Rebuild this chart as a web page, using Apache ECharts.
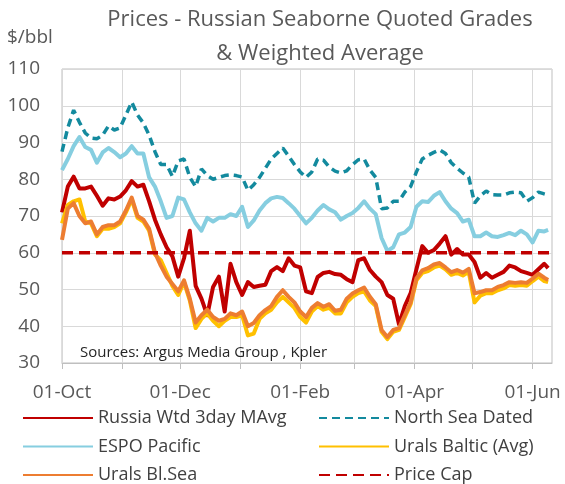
<!DOCTYPE html>
<html>
<head>
<meta charset="utf-8">
<script src="https://cdn.jsdelivr.net/npm/echarts@6/dist/echarts.min.js"></script>
<style>
  html, body { margin: 0; padding: 0; background: #fff; }
  #chart { width: 565px; height: 484px; }
</style>
</head>
<body>
<div id="chart"></div>
<script>
// sample dates (every 3 days)
const sampleDates = [
  '2022-10-01', '2022-10-04', '2022-10-07', '2022-10-10', '2022-10-13', '2022-10-16', '2022-10-19', '2022-10-22',
  '2022-10-25', '2022-10-28', '2022-10-31', '2022-11-03', '2022-11-06', '2022-11-09', '2022-11-12', '2022-11-15',
  '2022-11-18', '2022-11-21', '2022-11-24', '2022-11-27', '2022-11-30', '2022-12-03', '2022-12-06', '2022-12-09',
  '2022-12-12', '2022-12-15', '2022-12-18', '2022-12-21', '2022-12-24', '2022-12-27', '2022-12-30', '2023-01-02',
  '2023-01-05', '2023-01-08', '2023-01-11', '2023-01-14', '2023-01-17', '2023-01-20', '2023-01-23', '2023-01-26',
  '2023-01-29', '2023-02-01', '2023-02-04', '2023-02-07', '2023-02-10', '2023-02-13', '2023-02-16', '2023-02-19',
  '2023-02-22', '2023-02-25', '2023-02-28', '2023-03-03', '2023-03-06', '2023-03-09', '2023-03-12', '2023-03-15',
  '2023-03-18', '2023-03-21', '2023-03-24', '2023-03-27', '2023-03-30', '2023-04-02', '2023-04-05', '2023-04-08',
  '2023-04-11', '2023-04-14', '2023-04-17', '2023-04-20', '2023-04-23', '2023-04-26', '2023-04-29', '2023-05-02',
  '2023-05-05', '2023-05-08', '2023-05-11', '2023-05-14', '2023-05-17', '2023-05-20', '2023-05-23', '2023-05-26',
  '2023-05-29', '2023-06-01', '2023-06-04', '2023-06-07', '2023-06-09'
]

const russiaWtd = [
  71, 78, 80.7, 77.5, 77.5, 78, 75.5, 72.8, 74.8, 74.5, 75.3, 77, 79.5, 78, 78.5, 74,
  69, 65, 61.5, 59, 53.5, 58.5, 66, 51, 47.5, 43, 50.7, 53.5, 44, 57, 52, 48.5,
  52, 50.7, 51, 51.3, 55, 56.1, 55, 58.5, 56.5, 56, 49.5, 49, 53.4, 54.5, 54.8, 54.2,
  54, 52.8, 52, 58, 58.5, 55.3, 53.5, 52, 48.5, 47.5, 40.5, 45.5, 49, 55.5, 61.8, 60,
  60.7, 62.5, 64.5, 59.5, 61, 59.5, 59.5, 57.5, 53.2, 54.5, 53.2, 54, 54.8, 56.5, 56, 55,
  54.5, 54, 55.5, 57, 55.8
]
const northSea = [
  87.5, 94, 98.8, 95.5, 92.6, 91.2, 91, 92, 94.5, 93.4, 94, 97.5, 101, 97.5, 95.3, 92,
  87.5, 84, 84, 80.8, 85, 85.5, 80.5, 78, 82.8, 81, 80, 80.5, 81, 81.2, 81, 80.6,
  77, 78.5, 80.5, 83, 85.5, 87, 88.5, 86.3, 84, 82, 80.5, 82, 85.5, 85.2, 83.3, 82.2,
  81.7, 82.3, 84, 85.3, 85.5, 82.5, 80.5, 72, 72.2, 74, 74, 76.5, 78, 82, 85.5, 86.5,
  87.3, 88, 87, 84.5, 83, 81.7, 80.6, 73.5, 75.5, 76.8, 75.8, 75.7, 75.7, 76.3, 76.5, 76.3,
  74, 75, 76.5, 76, 75.7
]
const espoPacific = [
  82.5, 85.5, 89, 91.5, 88.8, 88, 84.5, 87.3, 88.5, 87.4, 86, 87, 89, 87, 87, 80.5,
  78, 74, 69.5, 70, 75, 74.5, 71, 68, 66, 69.5, 68.5, 69.5, 69.5, 70.5, 70, 72.5,
  67, 68.8, 71.5, 73.5, 74.8, 75.2, 74.9, 73.5, 72, 70, 68, 69.5, 71.5, 73, 71.8, 71,
  69, 70, 70.8, 72.2, 74, 72, 70.5, 64, 60.5, 61.5, 65, 65.5, 67, 72.5, 74, 73.8,
  75.5, 76.5, 74, 72, 70.8, 68.5, 69, 64.5, 64.5, 65.5, 64.5, 64.3, 64.8, 65.4, 64.8, 66,
  65, 62.8, 66, 65.8, 66.2
]
const uralsBaltic = [
  68, 73, 74, 74.5, 68.5, 68, 64.5, 66.5, 66.5, 67, 68, 71, 74.5, 69.5, 68.5, 66,
  59.5, 58, 54.5, 51, 48.5, 52, 47, 39.5, 42, 43.5, 41.5, 40, 41.5, 42.5, 42.5, 43,
  37.5, 38, 42, 43.5, 44.5, 46.5, 48, 46.5, 45, 42.5, 41, 44, 45.5, 44.5, 45, 43.5,
  43.5, 46.5, 48, 49, 49.5, 47, 45.5, 38.5, 36.5, 38.5, 39, 42.5, 46, 52.5, 54.5, 55,
  56, 56.5, 55.5, 54, 54.5, 53.8, 54.8, 46.5, 48.3, 49, 49, 49.8, 50.3, 51.2, 51, 51.2,
  51, 52.3, 53.5, 52.3, 52
]
const uralsBlSea = [
  63.5, 72, 73.5, 70, 68, 68.5, 65, 67, 67.5, 67.5, 68.5, 71.5, 75, 70, 69, 66.5,
  60, 56.5, 53.5, 51.5, 49.5, 52.5, 47.5, 41, 43, 44.5, 42.5, 41.5, 42, 43.5, 43, 44,
  40, 40.9, 43, 44.4, 45.5, 48, 49.8, 48, 46.5, 44, 42.5, 45, 46.3, 45.3, 46, 44.2,
  44.5, 47.5, 48.9, 49.8, 50.5, 48, 46, 39, 37.1, 39, 39.5, 43, 46.5, 53, 55.2, 55.8,
  56.8, 57.2, 56, 54.7, 55.3, 54.6, 55.6, 49, 49.3, 49.8, 49.8, 50.7, 51.2, 52, 51.8, 52,
  51.8, 53, 54.3, 53.2, 52.6
]
const capDates = ['2022-10-01', '2023-06-11']
const priceCap = [60, 60]

const tickLabels = ['2022-10-01', '2022-12-01', '2023-02-01', '2023-04-01', '2023-06-01']
const monthNames = ['Jan', 'Feb', 'Mar', 'Apr', 'May', 'Jun', 'Jul', 'Aug', 'Sep', 'Oct', 'Nov', 'Dec']

// every calendar day on the axis
let days = []
let t = Date.UTC(2022, 9, 1)
const tEnd = Date.UTC(2023, 5, 11)
while (t <= tEnd) {
  days.push(new Date(t).toISOString().slice(0, 10))
  t += 86400000
}

function pairs(dates, vals) {
  return dates.map((d, i) => [days.indexOf(d), vals[i]])
}

const font = '"Open Sans", "Noto Sans", sans-serif'

function makeLegend(left, names) {
  return {
    orient: 'vertical', left: left, top: 409, height: 120, padding: 0,
    itemWidth: 70, itemHeight: 18, itemGap: 10.5,
    itemStyle: { opacity: 0 },
    textStyle: { fontSize: 18, color: '#404040', fontFamily: font },
    data: names
  }
}

let chart = echarts.init(document.getElementById('chart'))
let option = {
  animation: false,
  backgroundColor: '#ffffff',
  textStyle: { fontFamily: font },
  title: [
    {
      text: 'Prices - Russian Seaborne Quoted Grades\n& Weighted Average',
      left: 320, top: 3, padding: 0,
      textAlign: 'center',
      textStyle: { fontSize: 22, fontWeight: 'normal', color: '#595959', lineHeight: 34, fontFamily: font }
    },
    {
      text: '$/bbl',
      left: 7, top: 28, padding: 0,
      textStyle: { fontSize: 19, fontWeight: 'normal', color: '#595959', fontFamily: font }
    },
    {
      text: 'Sources: Argus Media Group , Kpler',
      left: 80, top: 345, padding: 0,
      textStyle: { fontSize: 15, fontWeight: 'normal', color: '#262626', fontFamily: font }
    }
  ],
  grid: {
    left: 62, right: 13, top: 69, bottom: 121,
    show: true, borderColor: '#BFBFBF', borderWidth: 1
  },
  legend: [
    makeLegend(22, ['Russia Wtd 3day MAvg', 'ESPO Pacific', 'Urals Bl.Sea']),
    makeLegend(318, ['North Sea Dated', 'Urals Baltic (Avg)', 'Price Cap'])
  ],
  xAxis: {
    type: 'category',
    data: days,
    boundaryGap: false,
    axisLine: { lineStyle: { color: '#BFBFBF', width: 1 } },
    axisTick: {
      show: true, length: 6,
      interval: (i, v) => v.slice(8) === '01',
      lineStyle: { color: '#BFBFBF' }
    },
    splitLine: {
      show: true,
      interval: (i, v) => v.slice(8) === '01',
      lineStyle: { color: '#D9D9D9', width: 1 }
    },
    axisLabel: {
      interval: (i, v) => tickLabels.indexOf(v) >= 0,
      formatter: v => v.slice(8) + '-' + monthNames[parseInt(v.slice(5, 7), 10) - 1],
      fontSize: 19, color: '#595959', margin: 20, fontFamily: font
    }
  },
  yAxis: {
    type: 'value',
    min: 30, max: 110, interval: 10,
    axisLine: { show: false },
    axisTick: { show: false },
    splitLine: { lineStyle: { color: '#D9D9D9', width: 1 } },
    axisLabel: { fontSize: 19, color: '#595959', margin: 22, fontFamily: font }
  },
  series: [
    {
      name: 'Russia Wtd 3day MAvg', type: 'line', symbol: 'none',
      lineStyle: { color: '#C00000', width: 4, join: 'round' }, itemStyle: { color: '#C00000' },
      data: pairs(sampleDates, russiaWtd)
    },
    {
      name: 'North Sea Dated', type: 'line', symbol: 'none',
      lineStyle: { color: '#138A9E', width: 3.5, type: [8, 5] }, itemStyle: { color: '#138A9E' },
      data: pairs(sampleDates, northSea)
    },
    {
      name: 'ESPO Pacific', type: 'line', symbol: 'none',
      lineStyle: { color: '#86CEE0', width: 4, join: 'round' }, itemStyle: { color: '#86CEE0' },
      data: pairs(sampleDates, espoPacific)
    },
    {
      name: 'Urals Baltic (Avg)', type: 'line', symbol: 'none',
      lineStyle: { color: '#FFC000', width: 4, join: 'round' }, itemStyle: { color: '#FFC000' },
      data: pairs(sampleDates, uralsBaltic)
    },
    {
      name: 'Urals Bl.Sea', type: 'line', symbol: 'none',
      lineStyle: { color: '#ED7D31', width: 4, join: 'round' }, itemStyle: { color: '#ED7D31' },
      data: pairs(sampleDates, uralsBlSea)
    },
    {
      name: 'Price Cap', type: 'line', symbol: 'none',
      lineStyle: { color: '#C00000', width: 3.5, type: [11, 6] }, itemStyle: { color: '#C00000' },
      data: pairs(capDates, priceCap)
    }
  ]
}
chart.setOption(option)
</script>
</body>
</html>
